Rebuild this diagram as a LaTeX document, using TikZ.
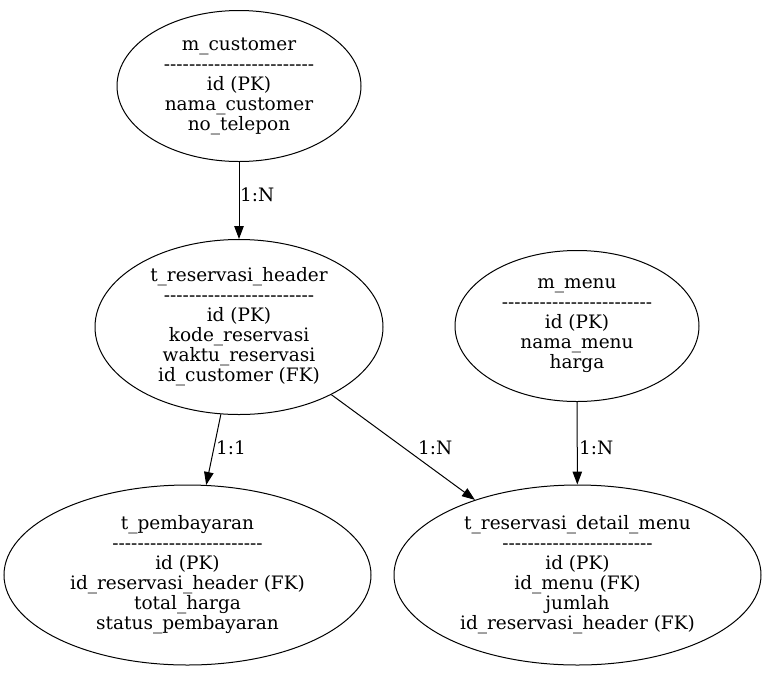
\documentclass[tikz,border=0pt]{standalone}
\usepackage{fontspec}
\setmainfont{DejaVu Serif}[Ligatures=TeXOff]
\usetikzlibrary{shapes.geometric,arrows.meta}
\newcommand{\dashrule}{------------------------}
\begin{document}
\begin{tikzpicture}[x=1pt,y=-1pt,
  entity/.style={draw,ellipse,line width=1pt,inner sep=0pt,align=center,
    font=\fontsize{18.5}{20}\selectfont},
  rel/.style={draw,line width=1pt,-{Triangle[length=13pt,width=9.5pt]}},
  lbl/.style={anchor=west,inner sep=0pt,font=\fontsize{18.5}{20}\selectfont}]
\useasboundingbox (0,0) rectangle (766,673);
\node[entity,minimum width=244pt,minimum height=151pt] (cust) at (239,86)
  {m\_customer\\\dashrule\\id (PK)\\nama\_customer\\no\_telepon};
\node[entity,minimum width=288pt,minimum height=175pt] (head) at (239,327)
  {t\_reservasi\_header\\\dashrule\\id (PK)\\kode\_reservasi\\waktu\_reservasi\\id\_customer (FK)};
\node[entity,minimum width=244pt,minimum height=151pt] (menu) at (577,326)
  {m\_menu\\\dashrule\\id (PK)\\nama\_menu\\harga};
\node[entity,minimum width=367pt,minimum height=180pt] (bayar) at (187.5,575)
  {t\_pembayaran\\\dashrule\\id (PK)\\id\_reservasi\_header (FK)\\total\_harga\\status\_pembayaran};
\node[entity,minimum width=367pt,minimum height=180pt] (detail) at (577.5,575)
  {t\_reservasi\_detail\_menu\\\dashrule\\id (PK)\\id\_menu (FK)\\jumlah\\id\_reservasi\_header (FK)};
\path[rel] (cust) -- (head);
\path[rel] (head) -- (bayar);
\path[rel] (head) -- (detail);
\path[rel] (menu) -- (detail);
\node[lbl] (l1) at (240,195) {1:N};
\node[lbl] (l2) at (216,448) {1:1};
\node[lbl] (l3) at (418,448) {1:N};
\node[lbl] (l4) at (579,448) {1:N};
\end{tikzpicture}
\end{document}
